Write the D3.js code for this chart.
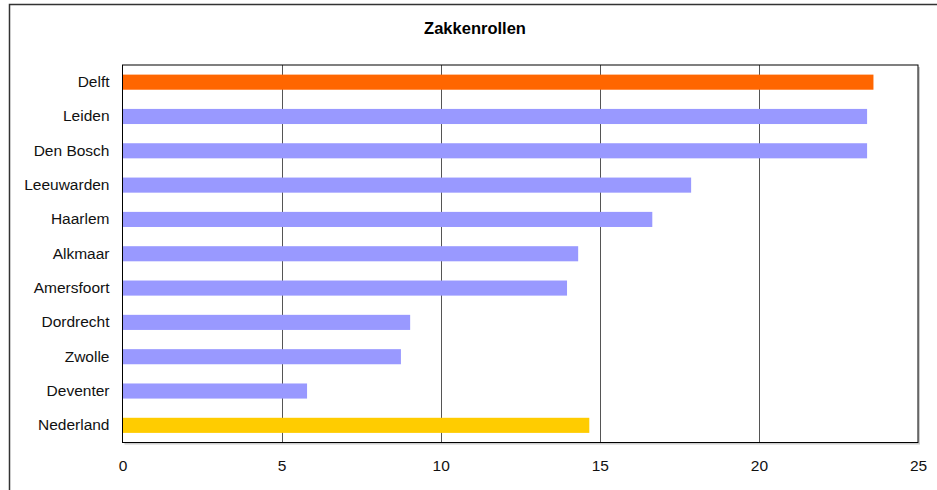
<!DOCTYPE html>
<html>
<head>
<meta charset="utf-8">
<script src="https://cdn.jsdelivr.net/npm/d3@7"></script>
<style>
  body { margin: 0; background: #fff; }
  text { font-family: "Liberation Sans", Arial, sans-serif; }
</style>
</head>
<body>
<div id="chart"></div>
<script>
// Zakkenrollen per stad
var cities = ["Delft", "Leiden", "Den Bosch", "Leeuwarden", "Haarlem", "Alkmaar",
    "Amersfoort", "Dordrecht", "Zwolle", "Deventer", "Nederland"];
var values = [23.6, 23.4, 23.4, 17.87, 16.65, 14.32, 13.97, 9.04, 8.75, 5.8, 14.67];
var barColors = ["#ff6600", "#9999ff", "#9999ff", "#9999ff", "#9999ff", "#9999ff",
    "#9999ff", "#9999ff", "#9999ff", "#9999ff", "#ffcc00"];
var xTicks = [0, 5, 10, 15, 20, 25];

var width = 937,
    height = 490,
    plotLeft = 122.5,
    plotRight = 918,
    plotTop = 65,
    plotBottom = 442.5;

var svg = d3.select("#chart")
    .append("svg")
    .attr("width", width)
    .attr("height", height);

// outer frame (runs off the right and bottom edge)
svg.append("rect")
    .attr("x", 9.5)
    .attr("y", 4.5)
    .attr("width", 1000)
    .attr("height", 1000)
    .attr("fill", "none")
    .attr("stroke", "#333")
    .attr("stroke-width", 1.5);

svg.append("text")
    .attr("x", 475)
    .attr("y", 34)
    .attr("text-anchor", "middle")
    .style("font-size", "16.5px")
    .style("font-weight", "bold")
    .text("Zakkenrollen");

var x = d3.scaleLinear()
    .domain([0, 25])
    .range([plotLeft, plotRight]);

var y = d3.scaleBand()
    .domain(cities)
    .range([plotTop, plotBottom])
    .paddingInner(0.56)
    .paddingOuter(0.28);

// shadow of the plot area
svg.append("rect")
    .attr("x", plotLeft + 2)
    .attr("y", plotTop + 2)
    .attr("width", plotRight - plotLeft)
    .attr("height", plotBottom - plotTop)
    .attr("fill", "#ccc");

svg.append("rect")
    .attr("x", plotLeft)
    .attr("y", plotTop)
    .attr("width", plotRight - plotLeft)
    .attr("height", plotBottom - plotTop)
    .attr("fill", "#fff");

// vertical gridlines
svg.append("g")
    .selectAll("line")
    .data(xTicks.slice(1, -1))
    .join("line")
    .attr("x1", d => Math.round(x(d)) + 0.5)
    .attr("x2", d => Math.round(x(d)) + 0.5)
    .attr("y1", plotTop)
    .attr("y2", plotBottom)
    .attr("stroke", "#555")
    .attr("stroke-width", 1);

// bars
svg.append("g")
    .selectAll("rect")
    .data(values)
    .join("rect")
    .attr("x", x(0))
    .attr("y", (d, i) => y(cities[i]))
    .attr("width", d => x(d) - x(0))
    .attr("height", y.bandwidth())
    .attr("fill", (d, i) => barColors[i]);

// plot border
svg.append("rect")
    .attr("x", plotLeft)
    .attr("y", plotTop)
    .attr("width", plotRight - plotLeft)
    .attr("height", plotBottom - plotTop)
    .attr("fill", "none")
    .attr("stroke", "#000")
    .attr("stroke-width", 1);

// category labels
var yAxis = svg.append("g")
    .attr("transform", "translate(" + plotLeft + ",0)")
    .call(d3.axisLeft(y).tickSize(0).tickPadding(13));
yAxis.select(".domain").remove();
yAxis.selectAll("text")
    .style("font-size", "15.5px")
    .style("fill", "#111")
    .style("font-family", "Liberation Sans, Arial, sans-serif");

// value labels
var xAxis = svg.append("g")
    .attr("transform", "translate(0," + plotBottom + ")")
    .call(d3.axisBottom(x).tickValues(xTicks).tickSize(0).tickPadding(17));
xAxis.select(".domain").remove();
xAxis.selectAll("text")
    .style("font-size", "15.5px")
    .style("fill", "#111")
    .style("font-family", "Liberation Sans, Arial, sans-serif");
</script>
</body>
</html>
